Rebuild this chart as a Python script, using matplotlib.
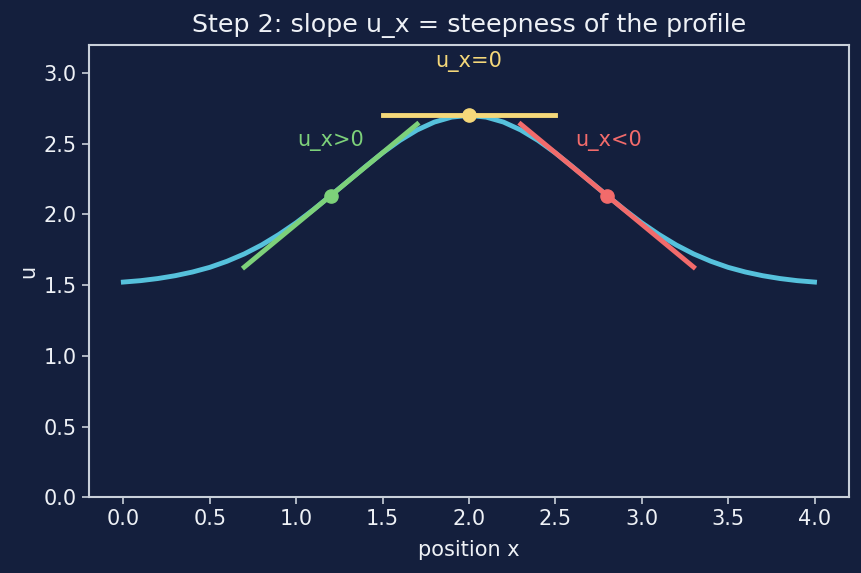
import matplotlib
matplotlib.use("Agg")
import matplotlib.pyplot as plt
import numpy as np

BG = "#141f3d"
FG = "#eef1f6"
SPINE = "#c9d0da"
CURVE = "#56c1dc"
GREEN = "#7dd17a"
YELLOW = "#f5d87a"
RED = "#f26b6b"

# profile u(x) at 0.1 steps
x = [0.0, 0.1, 0.2, 0.3, 0.4, 0.5, 0.6, 0.7, 0.8, 0.9,
     1.0, 1.1, 1.2, 1.3, 1.4, 1.5, 1.6, 1.7, 1.8, 1.9,
     2.0, 2.1, 2.2, 2.3, 2.4, 2.5, 2.6, 2.7, 2.8, 2.9,
     3.0, 3.1, 3.2, 3.3, 3.4, 3.5, 3.6, 3.7, 3.8, 3.9, 4.0]
u = [1.522, 1.532, 1.547, 1.567, 1.593, 1.626, 1.669, 1.721, 1.784, 1.858,
     1.941, 2.034, 2.133, 2.235, 2.337, 2.435, 2.523, 2.597, 2.653, 2.688,
     2.700, 2.688, 2.653, 2.597, 2.523, 2.435, 2.337, 2.235, 2.133, 2.034,
     1.941, 1.858, 1.784, 1.721, 1.669, 1.626, 1.593, 1.567, 1.547, 1.532, 1.522]

# tangent points and slopes
tan_x = [1.2, 2.0, 2.8]
tan_u = [2.133, 2.700, 2.133]
tan_slope = [1.01, 0.0, -1.01]
tan_colors = [GREEN, YELLOW, RED]
tan_labels = ["u_x>0", "u_x=0", "u_x<0"]
label_pos = [(1.2, 2.52), (2.0, 3.08), (2.81, 2.52)]

fig, ax = plt.subplots(figsize=(8.62, 5.73), dpi=100)
fig.patch.set_facecolor(BG)
ax.set_facecolor(BG)

ax.plot(x, u, color=CURVE, lw=3.5, zorder=2)

half = 0.5
for px, pu, s, c, lab, (lx, ly) in zip(tan_x, tan_u, tan_slope, tan_colors,
                                        tan_labels, label_pos):
    xs = np.array([px - half, px + half])
    ax.plot(xs, pu + s * (xs - px), color=c, lw=3.5, zorder=3)
    ax.plot([px], [pu], "o", color=c, ms=9.5, zorder=4)
    ax.text(lx, ly, lab, color=c, fontsize=15, ha="center", va="center")

ax.set_xlim(-0.2, 4.2)
ax.set_ylim(0, 3.2)
ax.set_title("Step 2: slope u_x = steepness of the profile", color=FG,
             fontsize=18.3, pad=9)
ax.set_xlabel("position x", color=FG, fontsize=15, labelpad=8)
ax.set_ylabel("u", color=FG, fontsize=15)
ax.tick_params(colors=SPINE, labelcolor=FG, labelsize=15, length=5, width=1.2)
for sp in ax.spines.values():
    sp.set_color(SPINE)
    sp.set_linewidth(1.5)

fig.subplots_adjust(left=0.103, right=0.985, top=0.922, bottom=0.132)
fig.savefig("out.png", dpi=100, facecolor=BG)
